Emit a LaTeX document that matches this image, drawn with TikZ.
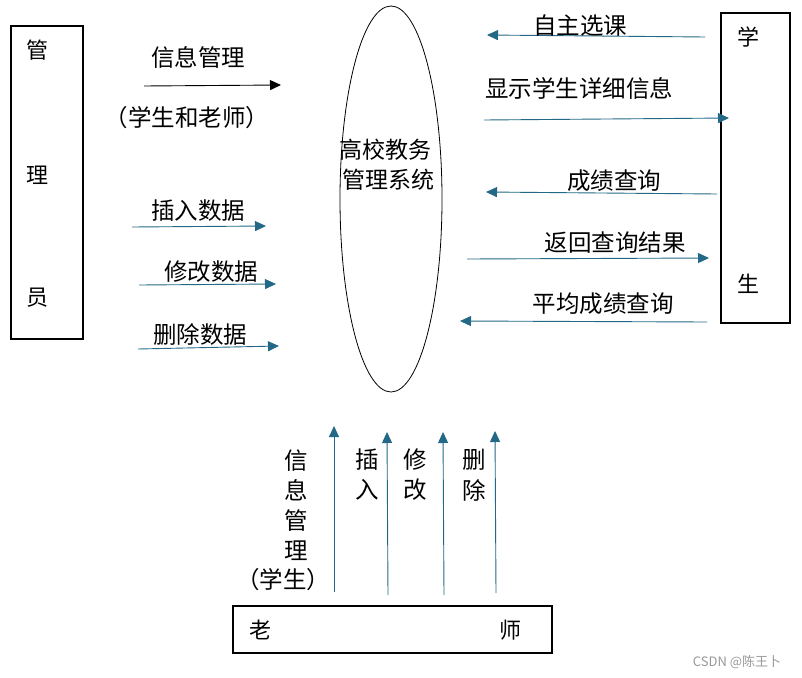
\documentclass[tikz,border=0pt]{standalone}
\usepackage{fontspec}
\setmainfont{Noto Sans CJK SC}
\usetikzlibrary{shapes.geometric,arrows.meta}
\definecolor{arrowblue}{RGB}{35,105,135}
\tikzset{
  lbl/.style={font=\fontsize{23.5pt}{28pt}\selectfont, inner sep=0pt, anchor=center},
  boxlbl/.style={font=\fontsize{22pt}{26pt}\selectfont, inner sep=0pt, anchor=center},
  flow/.style={draw=arrowblue, line width=0.9pt, -{Triangle[length=11pt,width=10pt]}, arrowblue},
  blackflow/.style={draw=black, line width=0.9pt, -{Triangle[length=11pt,width=10pt]}},
  entity/.style={draw, line width=1.1pt, inner sep=0pt}
}
\begin{document}
\begin{tikzpicture}[x=1pt,y=-1pt]
\useasboundingbox[fill=white] (0,0) rectangle (802,677);
% entities
\node[entity, minimum width=72pt, minimum height=313pt] (admin) at (47,182.5) {};
\node[boxlbl] (a1) at (38,50) {管};
\node[boxlbl] (a2) at (38,175) {理};
\node[boxlbl] (a3) at (38,298) {员};
\node[entity, minimum width=69pt, minimum height=310pt] (stu) at (755.5,168) {};
\node[boxlbl] (s1) at (748,37) {学};
\node[boxlbl] (s2) at (748,284) {生};
\node[entity, minimum width=319pt, minimum height=47pt] (tea) at (392.5,629.5) {};
\node[boxlbl] (t1) at (260,630) {老};
\node[boxlbl] (t2) at (510,630) {师};
% system
\node[draw, ellipse, line width=0.8pt, minimum width=102pt, minimum height=386pt] (sys) at (391,199) {};
\node[lbl, align=left, font=\fontsize{23pt}{30pt}\selectfont] (syslbl) at (387,165) {高校教务\\\,管理系统};
% admin arrows
\coordinate (i1s) at (144,86); \coordinate (i1e) at (281,85);
\draw[blackflow] (i1s) -- (i1e);
\node[lbl] (l1) at (198,57) {信息管理};
\node[lbl] (l1b) at (187,118) {（学生和老师）};
\coordinate (i2s) at (132,227); \coordinate (i2e) at (266,226);
\draw[flow] (i2s) -- (i2e);
\node[lbl] (l2) at (198,211) {插入数据};
\coordinate (i3s) at (139,285); \coordinate (i3e) at (276,284);
\draw[flow] (i3s) -- (i3e);
\node[lbl] (l3) at (211,272) {修改数据};
\coordinate (i4s) at (138,349); \coordinate (i4e) at (279,346);
\draw[flow] (i4s) -- (i4e);
\node[lbl] (l4) at (200,335) {删除数据};
% student arrows
\coordinate (r1s) at (705,37); \coordinate (r1e) at (487,35);
\draw[flow] (r1s) -- (r1e);
\node[lbl] (m1) at (580,26) {自主选课};
\coordinate (r2s) at (484,120); \coordinate (r2e) at (729,118);
\draw[flow] (r2s) -- (r2e);
\node[lbl] (m2) at (579,88) {显示学生详细信息};
\coordinate (r3s) at (717,194); \coordinate (r3e) at (486,192);
\draw[flow] (r3s) -- (r3e);
\node[lbl] (m3) at (614,181) {成绩查询};
\coordinate (r4s) at (467,259); \coordinate (r4e) at (709,258);
\draw[flow] (r4s) -- (r4e);
\node[lbl] (m4) at (615,243) {返回查询结果};
\coordinate (r5s) at (707,322); \coordinate (r5e) at (460,321);
\draw[flow] (r5s) -- (r5e);
\node[lbl] (m5) at (603,304) {平均成绩查询};
% teacher arrows
\coordinate (v1s) at (334,592); \coordinate (v1e) at (334,426);
\draw[flow] (v1s) -- (v1e);
\coordinate (v2s) at (388,595); \coordinate (v2e) at (387,432);
\draw[flow] (v2s) -- (v2e);
\coordinate (v3s) at (444,595); \coordinate (v3e) at (443,432);
\draw[flow] (v3s) -- (v3e);
\coordinate (v4s) at (496,593); \coordinate (v4e) at (495,431);
\draw[flow] (v4s) -- (v4e);
\node[lbl] (n1a) at (296,461) {信};
\node[lbl] (n1b) at (296,490) {息};
\node[lbl] (n1c) at (296,521) {管};
\node[lbl] (n1d) at (296,551) {理};
\node[lbl] (n1e) at (283,580) {（学生）};
\node[lbl] (n2a) at (367,460) {插};
\node[lbl] (n2b) at (367,490) {入};
\node[lbl] (n3a) at (415,460) {修};
\node[lbl] (n3b) at (415,490) {改};
\node[lbl] (n4a) at (474,460) {删};
\node[lbl] (n4b) at (474,490) {除};
% watermark
\node[font=\fontsize{13pt}{15pt}\selectfont, text=black!40, inner sep=0pt] (wm) at (737,662) {CSDN @陈王卜};
\end{tikzpicture}
\end{document}
